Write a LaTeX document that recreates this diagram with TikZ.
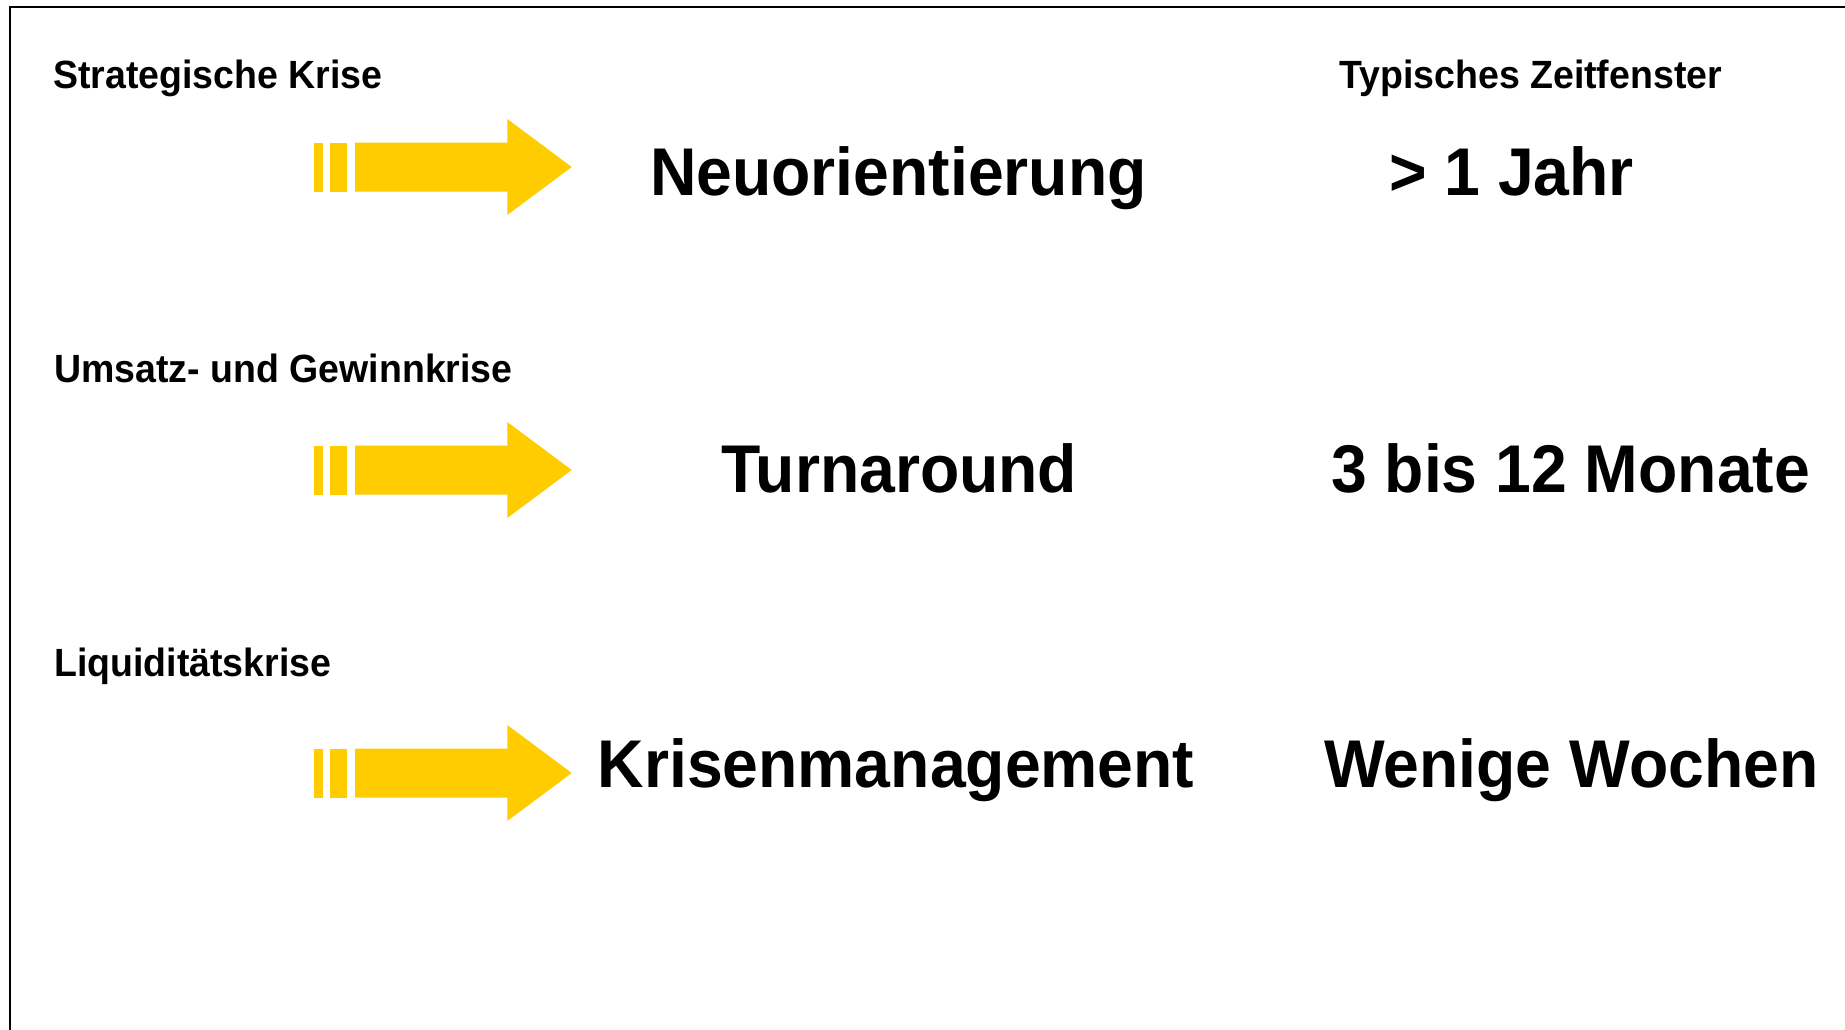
\documentclass[tikz,border=0pt]{standalone}
\usepackage{fontspec}
\usepackage{graphicx}
\setmainfont{Liberation Sans}
\definecolor{arrowyellow}{RGB}{255,204,0}
\newcommand\vstretch[1]{\scalebox{1}[1.05]{#1}}
\tikzset{
  small/.style={font=\bfseries\fontsize{37.5}{44}\selectfont, inner sep=0pt, anchor=base west},
  big/.style={font=\bfseries\fontsize{64.3}{76}\selectfont, inner sep=0pt, anchor=base west},
  yarrow/.pic={
    \fill[arrowyellow] (0,-24.5) rectangle (9,24.5);
    \fill[arrowyellow] (16,-24.5) rectangle (32.7,24.5);
    \fill[arrowyellow] (41,-24.5) -- (193.3,-24.5) -- (193.3,-48) -- (257.7,0)
      -- (193.3,48) -- (193.3,24.5) -- (41,24.5) -- cycle;
  }
}
\begin{document}
\begin{tikzpicture}[x=1pt,y=-1pt]
\useasboundingbox (0,0) rectangle (1845,1029);
\fill[white] (0,0) rectangle (1845,1029);
\draw[line width=2.4pt, black] (9.7,1040) -- (9.7,7) -- (1860,7);

\node[small] (l1) at (53,88.5) {\vstretch{Strategische Krise}};
\node[small] (l2) at (54,382) {\vstretch{Umsatz- und Gewinnkrise}};
\node[small] (l3) at (54,676) {\vstretch{Liquiditätskrise}};
\node[small] (zf) at (1339,88.5) {\vstretch{Typisches Zeitfenster}};

\pic at (314,167) {yarrow};
\pic at (314,470) {yarrow};
\pic at (314,773) {yarrow};

\node[big] (m1) at (650,195) {\vstretch{Neuorientierung}};
\node[big] (m2) at (721,492) {\vstretch{Turnaround}};
\node[big] (m3) at (597.5,787) {\vstretch{Krisenmanagement}};

\node[big] (t1) at (1389,195) {\vstretch{> 1 Jahr}};
\node[big] (t2) at (1331,492) {\vstretch{3 bis 12 Monate}};
\node[big] (t3) at (1324,787) {\vstretch{Wenige Wochen}};
\end{tikzpicture}
\end{document}
